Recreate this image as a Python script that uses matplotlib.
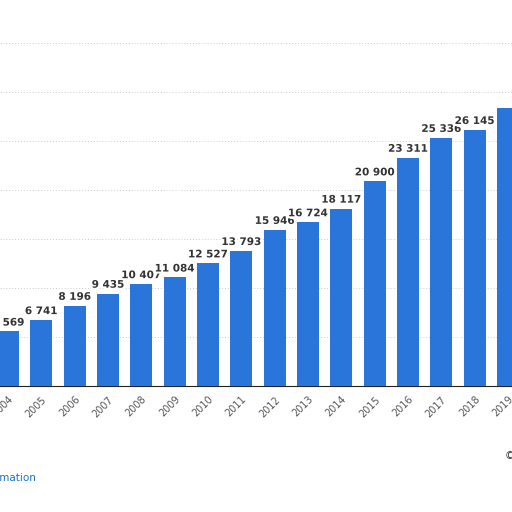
import matplotlib
matplotlib.use("Agg")
import matplotlib.pyplot as plt
import matplotlib.patheffects as pe

years = [str(y) for y in range(2004, 2020)]
values = [5569, 6741, 8196, 9435, 10407, 11084, 12527, 13793, 15946, 16724, 18117, 20900, 23311, 25336, 26145, 28400]
labels = ["5 569", "6 741", "8 196", "9 435", "10 407", "11 084", "12 527", "13 793", "15 946", "16 724", "18 117", "20 900", "23 311", "25 336", "26 145", ""]

fig = plt.figure(figsize=(5.12, 5.12), dpi=100)
ax = fig.add_axes([0, 0.246, 1, 0.754])
x = list(range(len(years)))
ax.bar(x, values, width=0.66, color="#2a75d9", zorder=3)
ax.set_xlim(-0.24, 15.12)
ax.set_ylim(0, 39400)
for v in range(5000, 40000, 5000):
    ax.axhline(v, color="#cccccc", lw=0.7, ls=(0, (1, 2)), zorder=1)
for xi, v, l in zip(x, values, labels):
    ax.text(xi, v + 400, l, ha="center", va="bottom", fontsize=7.5, fontweight="bold",
            color="#333333", path_effects=[pe.withStroke(linewidth=3, foreground="white")], zorder=4)
ax.set_xticks(x)
ax.set_xticklabels(years, rotation=45, ha="right", rotation_mode="anchor", fontsize=7, color="#555555")
ax.tick_params(axis="x", length=0, pad=6)
ax.set_yticks([])
for s in ["top", "right", "left"]:
    ax.spines[s].set_visible(False)
ax.spines["bottom"].set_color("#222222")
fig.text(-0.01, 0.066, "rmation", fontsize=7.5, color="#1a73c8", ha="left", va="center")
fig.text(0.985, 0.11, "©", fontsize=7.5, color="#333333", ha="left", va="center")
fig.savefig("out.png", dpi=100, facecolor="white")
